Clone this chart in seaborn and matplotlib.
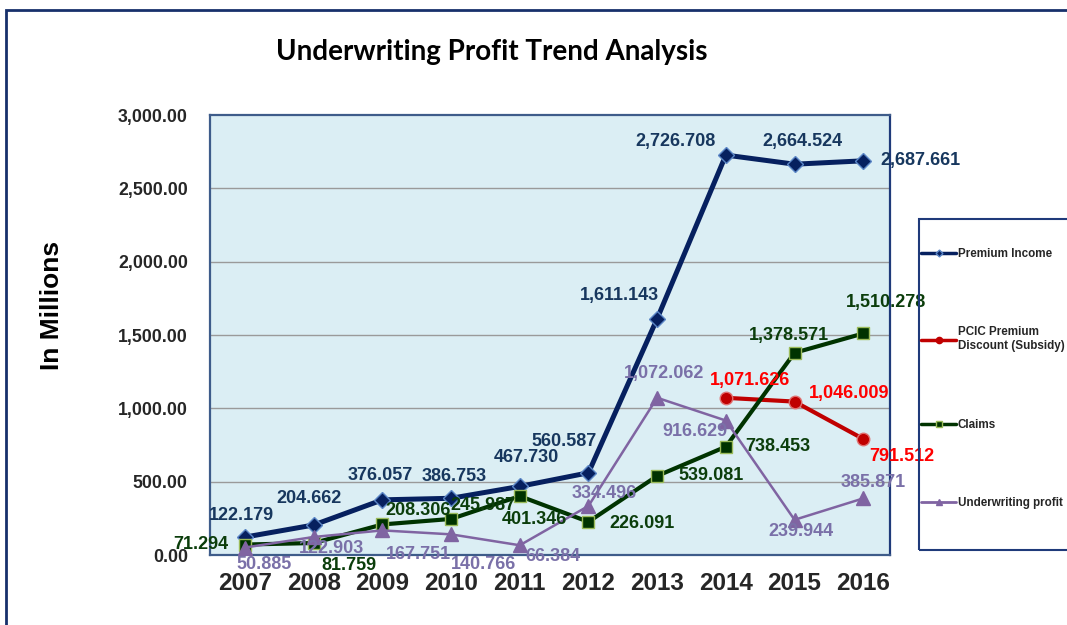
import matplotlib
matplotlib.use("Agg")
import matplotlib.pyplot as plt
from matplotlib.patches import Rectangle
from matplotlib.lines import Line2D
import seaborn as sns
import pandas as pd

# ---------------- data ----------------
years = ["2007", "2008", "2009", "2010", "2011", "2012", "2013", "2014", "2015", "2016"]
premium_income = [122.179, 204.662, 376.057, 386.753, 467.730, 560.587, 1611.143, 2726.708, 2664.524, 2687.661]
claims = [71.294, 81.759, 208.306, 245.987, 401.346, 226.091, 539.081, 738.453, 1378.571, 1510.278]
pcic_years = ["2014", "2015", "2016"]
pcic_subsidy = [1071.626, 1046.009, 791.512]
underwriting_profit = [50.885, 122.903, 167.751, 140.766, 66.384, 334.496, 1072.062, 916.629, 239.944, 385.871]
y_ticks = [0, 500, 1000, 1500, 2000, 2500, 3000]

# label offsets in pixels (dx, dy) -- layout only
off_prem = [(-4, 22), (-5, 26), (-2, 24), (3, 22), (7, 29), (-24, 31), (-38, 23), (-50, 14), (8, 23), (57, 0)]
off_claims = [(-44, 0), (35, -22), (36, 14), (32, 13), (15, -23), (54, -2), (54, 0), (52, 0), (-6, 17), (23, 31)]
off_pcic = [(24, 17), (55, 8), (39, -18)]
off_uw = [(19, -17), (18, -12), (36, -24), (32, -30), (33, -11), (16, 12), (7, 24), (-31, -11), (6, -12), (10, 16)]

# ---------------- style ----------------
sns.set_style("white")
plt.rcParams["font.family"] = ["Liberation Sans", "DejaVu Sans"]

C_PREM, C_PREM_TXT = "#06205F", "#17375E"
C_CLM, C_CLM_TXT = "#003300", "#0B3D0B"
C_PCIC, C_PCIC_TXT = "#C00000", "#FF0000"
C_UW, C_UW_TXT = "#8064A2", "#7A70A8"

fig = plt.figure(figsize=(10.67, 6.25), dpi=100)
ax = fig.add_axes([210 / 1067, 1 - 555 / 625, 680 / 1067, 440 / 625])
ax.set_facecolor("#DBEEF4")

xi = list(range(len(years)))
xp = [years.index(y) for y in pcic_years]

df = pd.DataFrame({"x": xi, "prem": premium_income, "claims": claims, "uw": underwriting_profit})
dfp = pd.DataFrame({"x": xp, "pcic": pcic_subsidy})

sns.lineplot(data=df, x="x", y="prem", ax=ax, color=C_PREM, lw=3.6, marker="D", ms=8,
             mfc=C_PREM, mec="#5B86C6", mew=1, legend=False, zorder=3)
sns.lineplot(data=dfp, x="x", y="pcic", ax=ax, color=C_PCIC, lw=3.0, marker="o", ms=9,
             mfc=C_PCIC, mec="#E07070", mew=1, legend=False, zorder=3)
sns.lineplot(data=df, x="x", y="claims", ax=ax, color=C_CLM, lw=3.0, marker="s", ms=8,
             mfc=C_CLM, mec="#9BBB59", mew=1, legend=False, zorder=4)
sns.lineplot(data=df, x="x", y="uw", ax=ax, color=C_UW, lw=1.8, marker="^", ms=10,
             mfc=C_UW, mec=C_UW, mew=1, legend=False, zorder=5)

lab_kw = dict(textcoords="offset pixels", ha="center", va="center", fontsize=13,
              fontweight="bold", zorder=10, annotation_clip=False)
for x, v, o in zip(xi, premium_income, off_prem):
    ax.annotate(f"{v:,.3f}", (x, v), xytext=o, color=C_PREM_TXT, **lab_kw)
for x, v, o in zip(xi, claims, off_claims):
    ax.annotate(f"{v:,.3f}", (x, v), xytext=o, color=C_CLM_TXT, **lab_kw)
for x, v, o in zip(xp, pcic_subsidy, off_pcic):
    ax.annotate(f"{v:,.3f}", (x, v), xytext=o, color=C_PCIC_TXT, **lab_kw)
for x, v, o in zip(xi, underwriting_profit, off_uw):
    ax.annotate(f"{v:,.3f}", (x, v), xytext=o, color=C_UW_TXT, **lab_kw)

ax.set_xlim(-0.51, 9.39)
ax.set_ylim(0, 3000)
ax.set_yticks(y_ticks)
ax.set_yticklabels([f"{t:,.2f}" for t in y_ticks], fontsize=12.8, fontweight="bold")
ax.set_xticks(xi)
ax.set_xticklabels(years, fontsize=17.5, fontweight="bold")
ax.tick_params(axis="y", length=0, pad=16)
ax.tick_params(axis="x", length=0, pad=12)
ax.set_xlabel("")
ax.set_ylabel("")
for t in y_ticks[1:-1]:
    ax.axhline(t, color="#9A9A9A", lw=1, zorder=1)
for s in ax.spines.values():
    s.set_color("#3E5C8A")
    s.set_linewidth(1.6)
ax.spines["right"].set_color("#1F3A7A")

fig.text(492 / 1067, 1 - 52 / 625, "Underwriting Profit Trend Analysis", ha="center", va="center",
         fontsize=20, fontweight="bold", color="black", family=["Lato", "DejaVu Sans"])
fig.text(52 / 1067, 1 - 305 / 625, "In Millions", rotation=90, ha="center", va="center",
         fontsize=19, fontweight="bold", color="black")

# outer frame
fig.add_artist(Rectangle((6 / 1067, -0.05), 1.2, 1 - 10 / 625 + 0.05, transform=fig.transFigure,
                         fill=False, edgecolor="#17306B", lw=2))
# legend frame
fig.add_artist(Rectangle((919 / 1067, 1 - 550 / 625), 0.3, (550 - 219) / 625, transform=fig.transFigure,
                         fill=False, edgecolor="#1F3A7A", lw=1.5))

handles = [
    Line2D([], [], color=C_PREM, lw=2.5, marker="D", ms=3.5, mfc=C_PREM, mec="#5B86C6"),
    Line2D([], [], color=C_PCIC, lw=2.5, marker="o", ms=4.5, mfc=C_PCIC, mec=C_PCIC),
    Line2D([], [], color=C_CLM, lw=2.5, marker="s", ms=4.5, mfc=C_CLM, mec="#9BBB59"),
    Line2D([], [], color=C_UW, lw=2.0, marker="^", ms=5, mfc=C_UW, mec=C_UW),
]
labels = ["Premium Income", "PCIC Premium\nDiscount (Subsidy)", "Claims", "Underwriting profit"]
fig.legend(handles, labels, loc="upper left", bbox_to_anchor=(921 / 1067, 1 - 248 / 625),
           frameon=False, prop={"size": 8.4, "weight": "bold"}, labelspacing=5.7,
           handlelength=3, handletextpad=0.15, borderpad=0, borderaxespad=0)

fig.savefig("out.png", dpi=100)
